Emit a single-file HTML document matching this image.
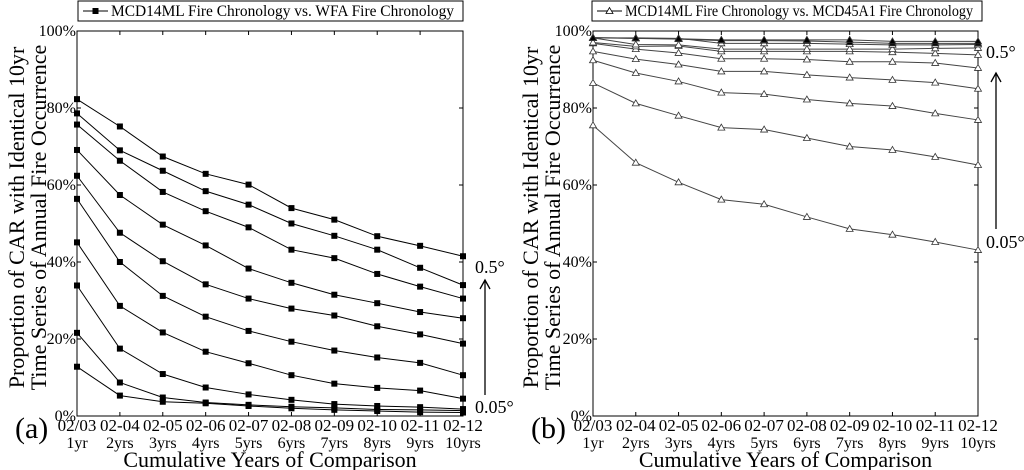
<!DOCTYPE html>
<html><head><meta charset="utf-8"><style>
html,body{margin:0;padding:0;background:#fff;}
svg{display:block;font-family:"Liberation Serif",serif;}
</style></head><body>
<svg id="c" width="1024" height="470" viewBox="0 0 1024 470"></svg>
<script>
const categoriesTop = ["02/03","02-04","02-05","02-06","02-07","02-08","02-09","02-10","02-11","02-12"];
const categoriesBottom = ["1yr","2yrs","3yrs","4yrs","5yrs","6yrs","7yrs","8yrs","9yrs","10yrs"];
const yTicks = [0,20,40,60,80,100];
const yTickLabels = ["0%","20%","40%","60%","80%","100%"];
const seriesA = [
[82.3,75.2,67.4,62.9,60.1,54.0,51.0,46.7,44.2,41.5],
[78.6,69.0,63.7,58.4,54.9,50.0,46.8,43.2,38.5,34.0],
[75.7,66.3,58.2,53.2,49.0,43.2,41.0,36.9,33.6,30.5],
[69.1,57.4,49.7,44.3,38.3,34.6,31.5,29.3,27.0,25.4],
[62.4,47.6,40.2,34.2,30.5,27.9,26.1,23.3,21.2,18.8],
[56.4,40.0,31.2,25.8,22.1,19.3,17.0,15.2,13.8,10.6],
[45.1,28.6,21.7,16.7,13.7,10.6,8.4,7.3,6.6,4.5],
[33.9,17.5,10.9,7.4,5.6,4.2,3.1,2.6,2.3,1.8],
[21.6,8.7,4.8,3.5,2.9,2.4,2.1,1.7,1.6,1.4],
[12.8,5.3,3.7,3.3,2.6,2.0,1.6,1.3,1.0,0.9]];
const seriesB = [
[75.5,65.8,60.7,56.2,55.0,51.7,48.6,47.1,45.2,43.1],
[86.5,81.2,78.0,74.9,74.4,72.2,70.0,69.1,67.3,65.2],
[92.4,89.1,86.9,84.0,83.6,82.2,81.2,80.5,78.6,76.9],
[94.7,92.7,91.3,89.5,89.5,88.6,87.9,87.3,86.6,85.0],
[96.8,95.3,94.3,92.8,92.8,92.6,92.0,92.0,91.7,90.4],
[97.0,96.0,96.1,94.7,94.7,94.7,94.7,94.5,94.2,93.8],
[98.2,96.5,96.4,95.3,95.3,95.3,95.3,95.3,95.5,95.6],
[98.2,98.2,98.1,96.8,96.8,96.8,96.6,96.4,96.4,96.5],
[98.3,98.1,97.9,97.5,97.5,97.4,97.1,96.8,96.8,96.8],
[98.2,98.1,98.0,97.7,97.7,97.7,97.7,97.3,97.3,97.3]];
const svg=document.getElementById('c');
const NS="http://www.w3.org/2000/svg";
function mk(t,a,txt){const e=document.createElementNS(NS,t);for(const k in a)e.setAttribute(k,a[k]);if(txt!==undefined)e.textContent=txt;svg.appendChild(e);return e;}
function panel(p){
  const x0=p.x0,x1=p.x1,y0=31,y1=416;
  const xs=i=>x0+(x1-x0)*i/9;
  const ys=v=>y1-(y1-y0)*v/100;
  let e=mk('rect',{x:x0,y:y0,width:x1-x0,height:y1-y0,fill:'none',stroke:'#000','stroke-width':1});
  
  
  yTicks.forEach((v,i)=>{
    mk('line',{x1:x0,x2:x0+4,y1:ys(v),y2:ys(v),stroke:'#000'});
    mk('line',{x1:x1,x2:x1-4,y1:ys(v),y2:ys(v),stroke:'#000'});
    e=mk('text',{x:x0-1,y:ys(v)+5,'text-anchor':'end','font-size':16},yTickLabels[i]);
    
    
  });
  categoriesTop.forEach((c,i)=>{
    mk('line',{x1:xs(i),x2:xs(i),y1:y1,y2:y1-4,stroke:'#000'});
    mk('line',{x1:xs(i),x2:xs(i),y1:y0,y2:y0+4,stroke:'#000'});
    e=mk('text',{x:xs(i),y:431,'text-anchor':'middle','font-size':17},c);
    
    
    e=mk('text',{x:xs(i),y:448,'text-anchor':'middle','font-size':16},categoriesBottom[i]);
    
    
  });
  p.data.forEach((s,k)=>{
    const pts=s.map((v,i)=>xs(i)+','+ys(v)).join(' ');
    e=mk('polyline',{points:pts,fill:'none',stroke:p.line,'stroke-width':1});
    
    
    s.forEach((v,i)=>{
      if(p.marker==='square'){
        e=mk('rect',{x:xs(i)-3,y:ys(v)-3,width:6,height:6,fill:'#000'});
      }else{
        const cx=xs(i),cy=ys(v);
        const filled=k>=8;
        e=mk('polygon',{points:`${cx},${cy-3.5} ${cx-3.5},${cy+2.5} ${cx+3.5},${cy+2.5}`,fill:filled?'#000':'#fff',stroke:'#333','stroke-width':0.8});
      }
      
      
    });
  });
  e=mk('rect',{x:p.lx,y:1,width:p.lw,height:20,fill:'#fff',stroke:'#000'});
  
  
  mk('line',{x1:p.lx+5,x2:p.lx+30,y1:11,y2:11,stroke:'#000'});
  if(p.marker==='square')mk('rect',{x:p.lx+14.5,y:8,width:6,height:6,fill:'#000'});
  else mk('polygon',{points:`${p.lx+17.5},7.5 ${p.lx+14},13.5 ${p.lx+21},13.5`,fill:'#fff',stroke:'#000','stroke-width':0.8});
  e=mk('text',{x:p.lx+33,y:16,'font-size':16,textLength:p.lw-42,lengthAdjust:'spacingAndGlyphs'},p.legend);
  
  
  e=mk('text',{x:0,y:0,'font-size':22,'text-anchor':'middle',transform:`translate(${p.ty},${(y0+y1)/2 - 6}) rotate(-90)`});
  
  
  const t1=document.createElementNS(NS,'tspan');t1.setAttribute('x',0);t1.setAttribute('dy',0);t1.textContent='Proportion of CAR with Identical 10yr';e.appendChild(t1);
  const t2=document.createElementNS(NS,'tspan');t2.setAttribute('x',0);t2.setAttribute('dy',22);t2.textContent='Time Series of Annual Fire Occurrence';e.appendChild(t2);
  e=mk('text',{x:(x0+x1)/2,y:467,'text-anchor':'middle','font-size':22},'Cumulative Years of Comparison');
  
  
  e=mk('text',{x:p.x0-62,y:438,'font-size':30},p.tag);
  
  
  mk('line',{x1:p.ax,x2:p.ax,y1:p.ab,y2:p.at,stroke:'#000','stroke-width':1.3});
  mk('polyline',{points:`${p.ax-5},${p.at+9} ${p.ax},${p.at} ${p.ax+5},${p.at+9}`,fill:'none',stroke:'#000','stroke-width':1.3});
  e=mk('text',{x:p.ax-10,y:p.hy,'font-size':18},'0.5°');
  
  
  e=mk('text',{x:p.ax-10,y:p.ly,'font-size':18},'0.05°');
  
  
}
panel({id:'panel-a',x0:77,x1:463,data:seriesA,marker:'square',line:'#000',lx:78,lw:385,legend:'MCD14ML Fire Chronology vs. WFA Fire Chronology',ty:24,tag:'(a)',ax:485,at:280,ab:395,hy:273,ly:413});
panel({id:'panel-b',x0:593,x1:978,data:seriesB,marker:'tri',line:'#444',lx:592,lw:390,legend:'MCD14ML Fire Chronology vs. MCD45A1 Fire Chronology',ty:538,tag:'(b)',ax:996,at:73,ab:229,hy:58,ly:248});
</script>
</body></html>
